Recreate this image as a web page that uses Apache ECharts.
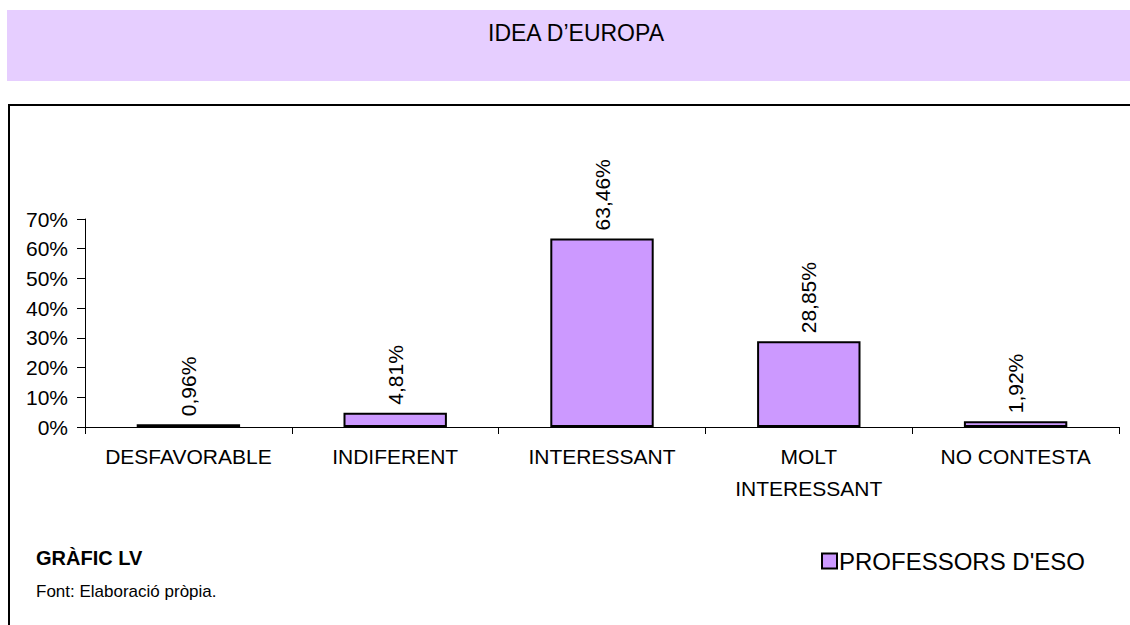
<!DOCTYPE html>
<html>
<head>
<meta charset="utf-8">
<script src="https://cdn.jsdelivr.net/npm/echarts@6/dist/echarts.min.js"></script>
<style>
  html, body { margin: 0; padding: 0; background: #fff; }
  #chart { width: 1130px; height: 625px; }
</style>
</head>
<body>
<div id="chart"></div>
<script>
var categories = ['DESFAVORABLE', 'INDIFERENT', 'INTERESSANT', 'MOLT\nINTERESSANT', 'NO CONTESTA'];
var values = [0.96, 4.81, 63.46, 28.85, 1.92];
var seriesName = "PROFESSORS D'ESO";

(function() {
  var font = '"Liberation Sans", Arial, sans-serif';
  var ink = '#000';
  var bar = '#CC99FF';

  var el = document.getElementById('chart');
  var chart = echarts.init(el, null, { renderer: 'svg' });
  chart.setOption({
    animation: false,
    textStyle: { fontFamily: font, color: ink },
    graphic: [
      // title band
      { type: 'rect', shape: { x: 7, y: 10, width: 1123, height: 71 }, style: { fill: '#E6CEFF' }, z: -10 },
      { type: 'text', x: 576, y: 33, style: { text: "IDEA D\u2019EUROPA", fill: ink, font: '23px ' + font, align: 'center', verticalAlign: 'middle' } },
      // frame
      { type: 'rect', shape: { x: 9, y: 105, width: 1140, height: 540 }, style: { fill: 'none', stroke: ink, lineWidth: 2 }, z: -5 },
      { type: 'text', x: 36, y: 558, style: { text: 'GRÀFIC LV', fill: ink, font: 'bold 20px ' + font, verticalAlign: 'middle' } },
      { type: 'text', x: 36, y: 591, style: { text: 'Font: Elaboració pròpia.', fill: ink, font: '17px ' + font, verticalAlign: 'middle' } }
    ],
    legend: {
      data: [seriesName],
      left: 816,
      top: 544,
      itemWidth: 15,
      itemHeight: 15,
      itemGap: 0,
      icon: 'rect',
      textStyle: { fontFamily: font, fontSize: 24, color: ink, padding: [0, 0, 0, -3] }
    },
    grid: { left: 85, right: 11, top: 219, bottom: 198, containLabel: false },
    xAxis: {
      type: 'category',
      data: categories,
      axisLine: { lineStyle: { color: ink, width: 1 } },
      axisTick: { show: true, length: 7, lineStyle: { color: ink } },
      axisLabel: { color: ink, fontSize: 21, fontFamily: font, interval: 0, margin: 13, lineHeight: 32 }
    },
    yAxis: {
      type: 'value',
      min: 0,
      max: 70,
      interval: 10,
      axisLine: { show: true, lineStyle: { color: ink, width: 1 } },
      axisTick: { show: true, length: 8, lineStyle: { color: ink } },
      splitLine: { show: false },
      axisLabel: { color: ink, fontSize: 21, fontFamily: font, margin: 17, formatter: '{value}%' }
    },
    series: [{
      name: seriesName,
      type: 'bar',
      barWidth: '50%',
      data: values,
      itemStyle: { color: bar, borderColor: ink, borderWidth: 2 },
      label: {
        show: true,
        position: 'top',
        rotate: 90,
        align: 'left',
        verticalAlign: 'middle',
        distance: 8,
        color: ink,
        fontSize: 21,
        fontFamily: font,
        formatter: function(p) { return p.value.toFixed(2).replace('.', ',') + '%'; }
      }
    }]
  });
  window.addEventListener('resize', function() { chart.resize(); });
})();
</script>
</body>
</html>
